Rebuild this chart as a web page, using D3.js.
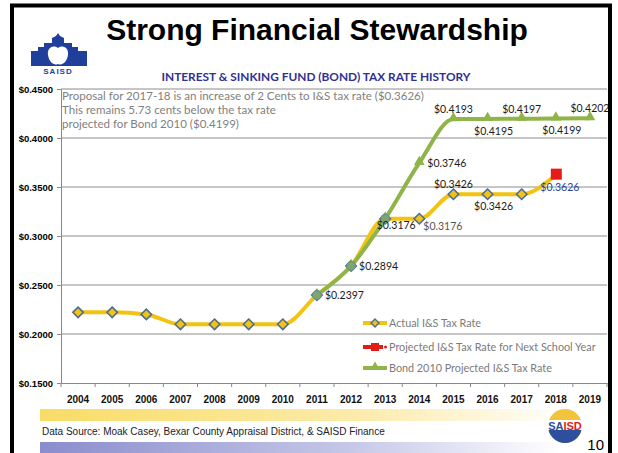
<!DOCTYPE html>
<html>
<head>
<meta charset="utf-8">
<script src="https://cdn.jsdelivr.net/npm/d3@7"></script>
<style>
  body { margin: 0; background: #fff; }
  svg { display: block; font-family: "Liberation Sans", Arial, sans-serif; }
</style>
</head>
<body>
<svg id="chart" width="618" height="453"></svg>
<script>
"use strict";

// chart data
const years = ["2004","2005","2006","2007","2008","2009","2010","2011","2012","2013","2014","2015","2016","2017","2018","2019"];
const actualRate = [0.2221, 0.2221, 0.2200, 0.2099, 0.2099, 0.2099, 0.2099, 0.2397, 0.2694, 0.3176, 0.3176, 0.3426, 0.3426, 0.3426, 0.3626, null];
const projectedYear = ["2018"];
const projectedRate = [0.3626];
const bondYears = ["2011","2012","2013","2014","2015","2016","2017","2018","2019"];
const bondRate = [0.2397, 0.2694, 0.3176, 0.3746, 0.4193, 0.4195, 0.4197, 0.4199, 0.4202];
const yTicks = [0.15, 0.20, 0.25, 0.30, 0.35, 0.40, 0.45];

// labels as they sit on the slide: [year, text, where]
const bondLabels = [
  ["2011", "$0.2397", "right"], ["2012", "$0.2894", "right"], ["2013", "$0.3176", "below"],
  ["2014", "$0.3746", "right"], ["2015", "$0.4193", "above"], ["2016", "$0.4195", "below"],
  ["2017", "$0.4197", "above"], ["2018", "$0.4199", "below"], ["2019", "$0.4202", "above"]
];
const actualLabels = [
  ["2014", "$0.3176", "belowright"], ["2015", "$0.3426", "above"], ["2016", "$0.3426", "below"]
];
const legendNames = ["Actual I&S Tax Rate", "Projected I&S Tax Rate for Next School Year", "Bond 2010 Projected I&S Tax Rate"];
const noteLines = [
  "Proposal for 2017-18 is an increase of 2 Cents to I&S tax rate ($0.3626)",
  "This remains 5.73 cents below the tax rate",
  "projected for Bond 2010 ($0.4199)"
];

const svg = d3.select("#chart");
const gold = "#f2c313", green = "#8fb449", red = "#e41b17";

// plot box
const plotL = 61, plotR = 607, plotT = 89, plotB = 383;

const x = d3.scaleBand().domain(years).range([plotL, plotR]).padding(0);
const y = d3.scaleLinear().domain([0.15, 0.45]).range([plotB, plotT]);
const cx = yr => x(yr) + x.bandwidth() / 2;

// footer bands
const defs = svg.append("defs");
const g1 = defs.append("linearGradient").attr("id", "yel");
g1.append("stop").attr("offset", "0%").attr("stop-color", "#f9dc66");
g1.append("stop").attr("offset", "60%").attr("stop-color", "#fcebaa");
g1.append("stop").attr("offset", "100%").attr("stop-color", "#fff");
const g2 = defs.append("linearGradient").attr("id", "lav");
g2.append("stop").attr("offset", "0%").attr("stop-color", "#8a8dcc");
g2.append("stop").attr("offset", "60%").attr("stop-color", "#c6c8e8");
g2.append("stop").attr("offset", "100%").attr("stop-color", "#fff");
svg.append("rect").attr("x", 40).attr("y", 409).attr("width", 530).attr("height", 12).attr("fill", "url(#yel)");
svg.append("rect").attr("x", 40).attr("y", 442).attr("width", 520).attr("height", 11).attr("fill", "url(#lav)");
svg.append("text").attr("x", 42).attr("y", 435).attr("font-size", 10).attr("fill", "#222")
  .text("Data Source:  Moak Casey, Bexar County Appraisal District, & SAISD Finance");

// round logo, bottom right
const badge = svg.append("g").attr("transform", "translate(565,426)");
badge.append("circle").attr("r", 17).attr("fill", "#f3c33b");
badge.append("path").attr("d", d3.arc()({innerRadius: 0, outerRadius: 17, startAngle: Math.PI / 2, endAngle: Math.PI * 1.5})).attr("fill", "#2d4f9e");
badge.append("rect").attr("x", -17).attr("y", -6).attr("width", 34).attr("height", 10).attr("fill", "#fff");
badge.append("text").attr("y", 3.5).attr("text-anchor", "middle").attr("font-size", 11).attr("font-weight", "bold")
  .attr("fill", "#2d4f9e").text("SA").append("tspan").attr("fill", red).text("ISD");
svg.append("text").attr("x", 604).attr("y", 450).attr("text-anchor", "end").attr("font-size", 15).text("10");

// title and subtitle
svg.append("text").attr("x", 317).attr("y", 40).attr("text-anchor", "middle")
  .attr("font-size", 30).attr("font-weight", "bold").text("Strong Financial Stewardship");
svg.append("text").attr("x", 316).attr("y", 81).attr("text-anchor", "middle")
  .attr("font-family", "Lato, sans-serif").attr("font-size", 10.5).attr("font-weight", "bold")
  .attr("fill", "#2f3192").attr("textLength", 309).attr("lengthAdjust", "spacingAndGlyphs")
  .text("INTEREST & SINKING FUND (BOND) TAX RATE HISTORY");

// SAISD building logo, top left
const logo = svg.append("g");
logo.append("path").attr("fill", "#1f3f9a")
  .attr("d", "M31,66 L31,51 L38,51 L38,47 L44,47 L44,43 L52,43 L52,38 L56,36 L58,33 L60,36 L64,38 L64,43 L72,43 L72,47 L78,47 L78,51 L87,51 L87,66 Z");
logo.append("path").attr("fill", "#fff")
  .attr("d", "M58,48 C52,44 47,49 48,55 C49,62 54,66 58,64 C62,66 67,62 68,55 C69,49 64,44 58,48 Z");
logo.append("text").attr("x", 58).attr("y", 74).attr("text-anchor", "middle").attr("font-size", 8)
  .attr("font-weight", "bold").attr("fill", "#1f3f9a").attr("letter-spacing", 1).text("SAISD");

// gridlines + y axis
const yAxis = svg.append("g").attr("transform", `translate(${plotL},0)`)
  .call(d3.axisLeft(y).tickValues(yTicks).tickSize(4).tickFormat(d => "$" + d3.format(".4f")(d)));
yAxis.select(".domain").attr("stroke", "#888");
yAxis.selectAll(".tick line").attr("stroke", "#888");
yAxis.selectAll(".tick text").attr("x", -8).attr("font-size", 9.5).attr("font-weight", "bold")
  .attr("font-family", "Liberation Sans, Arial, sans-serif").attr("fill", "#000");

svg.append("g").selectAll("line").data(yTicks.slice(1)).join("line")
  .attr("x1", plotL).attr("x2", plotR).attr("y1", d => y(d)).attr("y2", d => y(d))
  .attr("stroke", "#8c8c8c").attr("stroke-width", 1);

// x axis: labels centred, ticks on the category boundaries
const xAxis = svg.append("g").attr("transform", `translate(0,${plotB})`)
  .call(d3.axisBottom(x).tickSize(0).tickPadding(13));
xAxis.select(".domain").attr("stroke", "#888");
xAxis.selectAll(".tick text").attr("font-size", 10).attr("font-weight", "bold")
  .attr("font-family", "Liberation Sans, Arial, sans-serif").attr("fill", "#111");
svg.append("g").selectAll("line").data(years.map(d => x(d)).concat([plotR])).join("line")
  .attr("x1", d => d).attr("x2", d => d).attr("y1", plotB).attr("y2", plotB + 4)
  .attr("stroke", "#888");

// note in the top left corner, sized so the first line ends near x=425
const note = svg.append("g").selectAll("text").data(noteLines).join("text")
  .attr("x", 62).attr("y", (d, i) => 100 + i * 14).attr("font-size", 11)
  .attr("font-family", "Lato, sans-serif").attr("fill", "#7f7f7f").text(d => d);
const firstLen = note.node().getComputedTextLength();
if (firstLen > 0) note.attr("font-size", 11 * 362 / firstLen);

// series
const line = d3.line().defined(d => d[1] != null).x(d => cx(d[0])).y(d => y(d[1])).curve(d3.curveMonotoneX);
const actualPts = years.map((yr, i) => [yr, actualRate[i]]);
const bondPts = bondYears.map((yr, i) => [yr, bondRate[i]]);

svg.append("path").datum(actualPts).attr("d", line).attr("fill", "none")
  .attr("stroke", gold).attr("stroke-width", 4).attr("stroke-linejoin", "round");

const diamond = d3.symbol().type(d3.symbolDiamond2).size(70);
svg.append("g").selectAll("path").data(actualPts.filter(d => d[1] != null && d[0] !== "2018")).join("path")
  .attr("d", diamond).attr("transform", d => `translate(${cx(d[0])},${y(d[1])})`)
  .attr("fill", gold).attr("stroke", "#4e6d93").attr("stroke-width", 1.6);

svg.append("g").selectAll("rect").data(projectedYear.map((yr, i) => [yr, projectedRate[i]])).join("rect")
  .attr("x", d => cx(d[0]) - 5).attr("y", d => y(d[1]) - 6).attr("width", 11).attr("height", 11)
  .attr("fill", red);

svg.append("path").datum(bondPts).attr("d", line).attr("fill", "none")
  .attr("stroke", green).attr("stroke-width", 4).attr("stroke-linejoin", "round");
svg.append("g").selectAll("path").data(bondPts).join("path")
  .attr("d", d3.symbol().type(d3.symbolTriangle).size(50))
  .attr("transform", d => `translate(${cx(d[0])},${y(d[1]) - 1})`)
  .attr("fill", green);
// first bond points sit on the actual diamonds, they look bluish
svg.append("g").selectAll("circle").data(bondPts.slice(0, 3)).join("circle")
  .attr("cx", d => cx(d[0])).attr("cy", d => y(d[1])).attr("r", 4.5)
  .attr("fill", "#7fa56a").attr("stroke", "#5f88a0").attr("stroke-width", 1);

// data labels
function place(yr, val, where) {
  const px = cx(yr), py = y(val);
  if (where === "right") return [px + 8, py + 4, "start"];
  if (where === "above") return [px, py - 6, "middle"];
  if (where === "below") return [px + 6, py + 16, "middle"];
  return [px + 4, py + 11, "start"];
}
const bondMap = new Map(bondPts), actualMap = new Map(actualPts);
const labelFont = "Lato, sans-serif";
bondLabels.forEach(([yr, t, w]) => {
  const p = place(yr, bondMap.get(yr), w);
  svg.append("text").attr("x", yr === "2013" ? p[0] + 5 : p[0]).attr("y", yr === "2013" ? p[1] - 6 : p[1])
    .attr("text-anchor", p[2]).attr("font-size", 10.5).attr("font-family", labelFont).attr("fill", "#1a1a1a").text(t);
});
actualLabels.forEach(([yr, t, w]) => {
  const p = place(yr, actualMap.get(yr), w);
  svg.append("text").attr("x", p[0]).attr("y", p[1]).attr("text-anchor", p[2])
    .attr("font-size", 10.5).attr("font-family", labelFont).attr("fill", yr === "2014" ? "#555" : "#1a1a1a").text(t);
});
svg.append("text").attr("x", cx(projectedYear[0]) + 4).attr("y", y(projectedRate[0]) + 16).attr("text-anchor", "middle")
  .attr("font-size", 10.5).attr("font-family", labelFont).attr("fill", "#2a3f8f").text("$" + d3.format(".4f")(projectedRate[0]));

// legend
const leg = svg.append("g").attr("transform", "translate(363,0)");
const legY = [323, 347, 368];
leg.append("line").attr("x1", 0).attr("x2", 24).attr("y1", legY[0]).attr("y2", legY[0]).attr("stroke", gold).attr("stroke-width", 4);
leg.append("path").attr("d", d3.symbol().type(d3.symbolDiamond2).size(40)).attr("transform", `translate(12,${legY[0]})`)
  .attr("fill", gold).attr("stroke", "#4e6d93").attr("stroke-width", 1.4);
leg.append("line").attr("x1", 0).attr("x2", 20).attr("y1", legY[1]).attr("y2", legY[1]).attr("stroke", red).attr("stroke-width", 4);
leg.append("rect").attr("x", 8).attr("y", legY[1] - 4).attr("width", 8).attr("height", 8).attr("fill", red);
leg.append("circle").attr("cx", 22.5).attr("cy", legY[1]).attr("r", 1.5).attr("fill", red);
leg.append("line").attr("x1", 0).attr("x2", 24).attr("y1", legY[2]).attr("y2", legY[2]).attr("stroke", green).attr("stroke-width", 4);
leg.append("path").attr("d", d3.symbol().type(d3.symbolTriangle).size(40)).attr("transform", `translate(12,${legY[2] - 1})`).attr("fill", green);
leg.selectAll("text").data(legendNames).join("text")
  .attr("x", 26).attr("y", (d, i) => legY[i] + 4).attr("font-size", 10.8).attr("font-family", "Lato, sans-serif")
  .attr("fill", "#7a7a7a").text(d => d);

// slide frame on top
svg.append("rect").attr("x", 12).attr("y", 5.5).attr("width", 598).attr("height", 450)
  .attr("fill", "none").attr("stroke", "#000").attr("stroke-width", 4);
</script>
</body>
</html>
